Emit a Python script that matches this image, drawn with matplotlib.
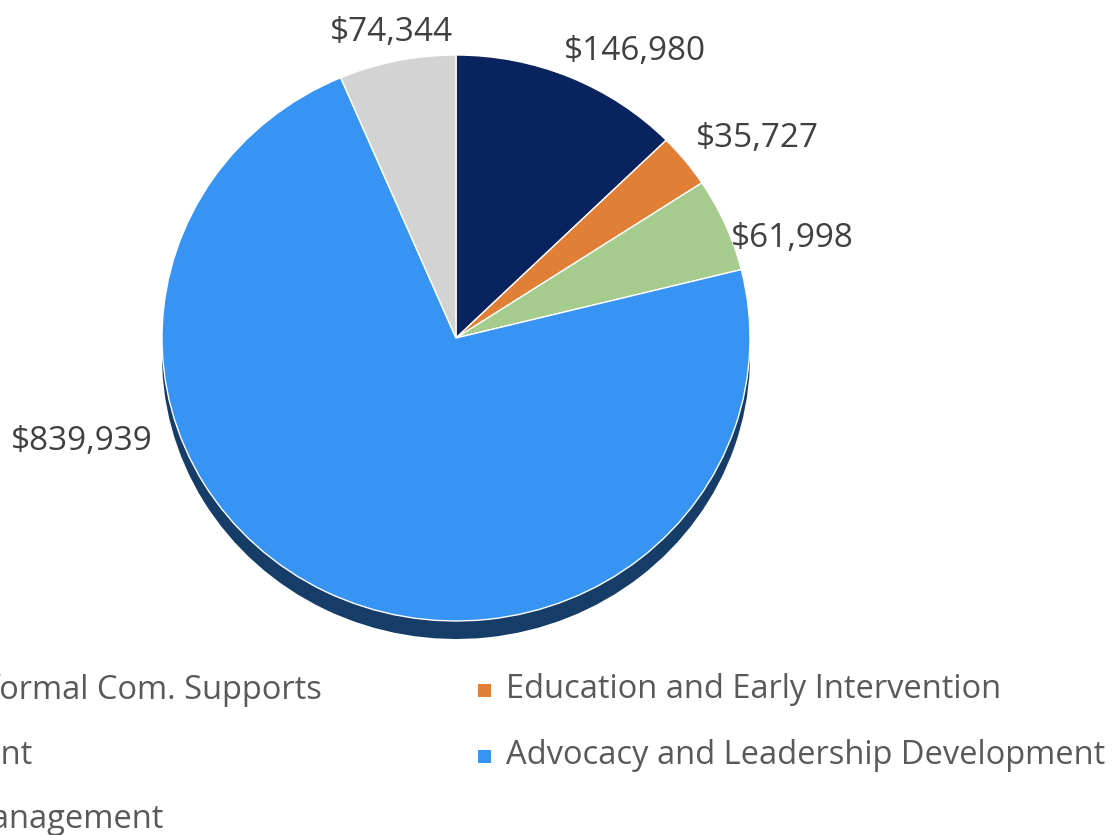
import matplotlib
matplotlib.use("Agg")
import matplotlib.pyplot as plt
from matplotlib.patches import Rectangle

# ---- data ----
categories = ["Formal/Informal Com. Supports", "Education and Early Intervention",
              "Employment", "Advocacy and Leadership Development", "Council Management"]
values = [146980, 35727, 61998, 839939, 74344]
value_labels = ["$146,980", "$35,727", "$61,998", "$839,939", "$74,344"]
colors = ["#08235E", "#E27F37", "#A5CB8D", "#3794F3", "#D3D3D3"]
side_colors = ["#051640", "#9A5522", "#6E8C5C", "#163C68", "#8C8C8C"]

# label anchor positions (axes data units, pie radius = 1)
label_pos = [(0.609, 1.012), (1.024, 0.705), (1.143, 0.352), (-1.272, -0.365), (-0.221, 1.080)]

W, H = 1119, 835
DPI = 100
FONT = ["Open Sans", "DejaVu Sans"]

fig = plt.figure(figsize=(W / DPI, H / DPI), dpi=DPI)
fig.patch.set_facecolor("white")

def px_box(x0, y0, x1, y1):
    return [x0 / W, 1 - y1 / H, (x1 - x0) / W, (y1 - y0) / H]

# pie axes spans the elliptical top face
ax = fig.add_axes(px_box(162, 55, 750, 621))
depth = 18 / 283.0

# side (3D band)
ax.pie(values, colors=side_colors, startangle=90, counterclock=False,
       center=(0, -depth), radius=1.0,
       wedgeprops=dict(linewidth=0))
# top face
wedges, _ = ax.pie(values, colors=colors, startangle=90, counterclock=False,
                   radius=1.0, wedgeprops=dict(edgecolor="white", linewidth=1.0))
ax.set_aspect("auto")
ax.set_xlim(-1, 1)
ax.set_ylim(-1, 1)
ax.axis("off")
for p in ax.patches:
    p.set_clip_on(False)

# data labels
for lab, (x, y) in zip(value_labels, label_pos):
    ax.text(x, y, lab, ha="center", va="center", fontsize=24, color="#404040",
            family=FONT, clip_on=False)

# legend (manual, 2 columns; left column is cropped at figure edge)
leg_fs = 23.5
rows_y = [690, 756, 819]
col2_marker_x = 478
text_gap = 28
msz = 13

fig.canvas.draw()
renderer = fig.canvas.get_renderer()
tmp = fig.text(0, 0, categories[0], fontsize=leg_fs, family=FONT)
w0 = tmp.get_window_extent(renderer).width
tmp.remove()
col1_text_x = 322 - w0
col1_marker_x = col1_text_x - text_gap

for i, cat in enumerate(categories):
    r, c = divmod(i, 2)
    mx = col1_marker_x if c == 0 else col2_marker_x
    ty = rows_y[r]
    fig.patches.append(Rectangle(((mx) / W, 1 - (ty + msz / 2) / H), msz / W, msz / H,
                                 transform=fig.transFigure, facecolor=colors[i],
                                 edgecolor="none"))
    fig.text((mx + text_gap) / W, 1 - ty / H, cat, fontsize=leg_fs, color="#595959",
             family=FONT, va="center", ha="left")

fig.savefig("out.png", dpi=DPI)
